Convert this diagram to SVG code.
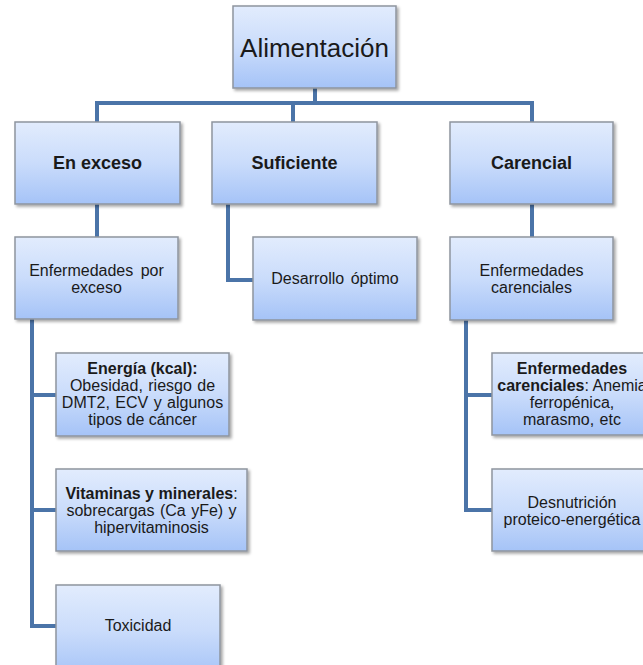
<svg xmlns="http://www.w3.org/2000/svg" width="643" height="665" viewBox="0 0 643 665">
<defs>
<linearGradient id="g" x1="0" y1="0" x2="0" y2="1">
<stop offset="0" stop-color="#e2ecfd"/>
<stop offset="0.5" stop-color="#cadcfb"/>
<stop offset="1" stop-color="#a5c3f7"/>
</linearGradient>
<filter id="sh" x="-10%" y="-10%" width="130%" height="130%">
<feDropShadow dx="2" dy="2" stdDeviation="1.5" flood-color="#000" flood-opacity="0.35"/>
</filter>
</defs>
<style>
.box{fill:url(#g);stroke:#8e959e;stroke-width:1.5;filter:url(#sh)}
.c{fill:none;stroke:#4b74a8;stroke-width:4}
text{font-family:"Liberation Sans",Arial,sans-serif;fill:#1a1a1a;text-anchor:middle}
.t{font-size:16px}
.b{font-weight:bold}
.h{font-size:18px;font-weight:bold}
</style>
<rect width="643" height="665" fill="#fff"/>
<g id="connectors">
<path class="c" d="M315,88 V103 M95,103 H534 M97,103 V122 M293,103 V122 M532,103 V122"/>
<path class="c" d="M97,204 V237"/>
<path class="c" d="M228,204 V280 H253"/>
<path class="c" d="M532,204 V237"/>
<path class="c" d="M32,319 V626 H56 M32,395 H56 M32,510 H56"/>
<path class="c" d="M466,320 V510 H492 M466,395 H492"/>
</g>
<g id="alimentacion">
<rect class="box" x="233" y="6" width="163" height="82"/>
<text x="314.5" y="57" font-size="26">Alimentación</text>
</g>
<g id="en-exceso">
<rect class="box" x="15" y="122" width="165" height="82"/>
<text class="h" x="97.5" y="169">En exceso</text>
</g>
<g id="suficiente">
<rect class="box" x="212" y="122" width="165" height="82"/>
<text class="h" x="294.5" y="169">Suficiente</text>
</g>
<g id="carencial">
<rect class="box" x="450" y="122" width="163" height="82"/>
<text class="h" x="531.5" y="169">Carencial</text>
</g>
<g id="enf-exceso">
<rect class="box" x="15" y="237" width="163" height="82"/>
<text class="t" x="96.5" y="276" word-spacing="3">Enfermedades por</text>
<text class="t" x="96.5" y="293">exceso</text>
</g>
<g id="desarrollo">
<rect class="box" x="253" y="237" width="164" height="83"/>
<text class="t" x="335" y="284" word-spacing="2">Desarrollo óptimo</text>
</g>
<g id="enf-carenciales">
<rect class="box" x="450" y="237" width="163" height="83"/>
<text class="t" x="531.5" y="276">Enfermedades</text>
<text class="t" x="531.5" y="293">carenciales</text>
</g>
<g id="energia">
<rect class="box" x="56" y="353" width="173" height="83"/>
<text class="t b" x="142.5" y="374">Energía (kcal):</text>
<text class="t" x="142.5" y="391" word-spacing="1">Obesidad, riesgo de</text>
<text class="t" x="142.5" y="408" word-spacing="1">DMT2, ECV y algunos</text>
<text class="t" x="142.5" y="425">tipos de cáncer</text>
</g>
<g id="vitaminas">
<rect class="box" x="56" y="469" width="191" height="82"/>
<text class="t" x="151.5" y="499"><tspan class="b">Vitaminas y minerales</tspan>:</text>
<text class="t" x="151.5" y="516" word-spacing="1">sobrecargas (Ca yFe) y</text>
<text class="t" x="151.5" y="533">hipervitaminosis</text>
</g>
<g id="toxicidad">
<rect class="box" x="56" y="585" width="164" height="92"/>
<text class="t" x="138" y="631">Toxicidad</text>
</g>
<g id="enf-carenciales-det">
<rect class="box" x="492" y="353" width="162" height="82"/>
<text class="t b" x="572" y="374">Enfermedades</text>
<text class="t" x="572" y="391"><tspan class="b">carenciales</tspan>: Anemia</text>
<text class="t" x="572" y="408">ferropénica,</text>
<text class="t" x="572" y="425" word-spacing="1">marasmo, etc</text>
</g>
<g id="desnutricion">
<rect class="box" x="492" y="469" width="162" height="82"/>
<text class="t" x="572" y="508">Desnutrición</text>
<text class="t" x="572" y="525">proteico-energética</text>
</g>
</svg>
